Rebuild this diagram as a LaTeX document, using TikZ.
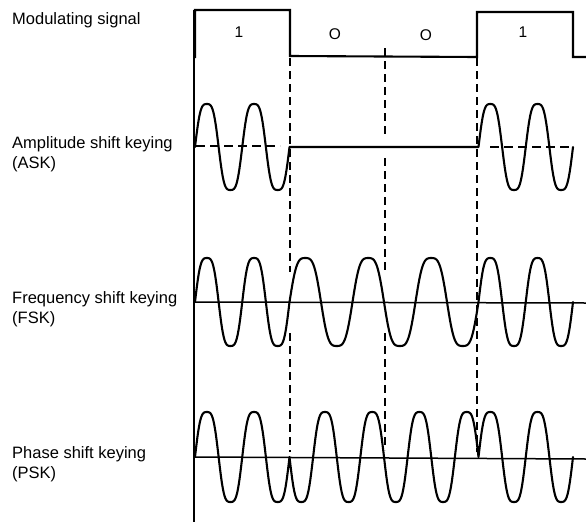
\documentclass[tikz,border=0pt]{standalone}
\usepackage{fontspec}
\setmainfont{Liberation Sans}
\begin{document}
\begin{tikzpicture}[x=1pt,y=-1pt,
  declare function={fw(\t)=(sin(\t)+0.1*sin(3*\t))/0.9;},
  lbl/.style={anchor=base west,inner sep=0pt,font=\fontsize{16.5}{20}\selectfont},
  bitlbl/.style={inner sep=0pt,font=\fontsize{15.5}{18}\selectfont},
  wave/.style={line width=2.1pt,line join=round,line cap=round},
  sig/.style={line width=2.1pt,line join=miter},
  axisline/.style={line width=1.3pt},
  baseline/.style={line width=1.5pt},
  bitdash/.style={line width=1.5pt,dash pattern=on 8pt off 5pt},
  centerdash/.style={line width=1.5pt,dash pattern=on 9pt off 5pt}]
\useasboundingbox (0,0) rectangle (586,525);
% labels
\node[lbl] (lmod) at (12,24) {Modulating signal};
\node[lbl] (lask1) at (12,148) {Amplitude shift keying};
\node[lbl] (lask2) at (12,168) {(ASK)};
\node[lbl] (lfsk1) at (12,303) {Frequency shift keying};
\node[lbl] (lfsk2) at (12,323) {(FSK)};
\node[lbl] (lpsk1) at (12,458) {Phase shift keying};
\node[lbl] (lpsk2) at (12,478) {(PSK)};
% bit labels
\node[bitlbl] (b1) at (239,32) {1};
\node[bitlbl] (b2) at (335,34) {O};
\node[bitlbl] (b3) at (426,35) {O};
\node[bitlbl] (b4) at (523,32) {1};
% axis
\draw[axisline] (194,10) -- (194,522);
% modulating signal
\draw[sig] (195,58) -- (195,10) -- (290,10) -- (290,56) -- (477,57) -- (477,12) -- (573,12) -- (573,57) -- (586,57);
% dashed bit boundaries
\draw[bitdash] (290,58) -- (290,272) (290,333) -- (290,452);
\draw[bitdash] (385,48) -- (385,137) (385,158) -- (385,272) (385,333) -- (385,450);
\draw[bitdash] (477,58) -- (477,452);
% ASK
\draw[wave] plot[domain=195:289.5,samples=120] (\x,{147-43*fw(7.619*(\x-195))}) -- (478.5,147)
  -- plot[domain=478.5:573,samples=120] (\x,{147-43*fw(7.619*(\x-478.5))});
\draw[centerdash] (196,146) -- (280,146) (490,147) -- (573,147);
% FSK
\draw[baseline] (195,302) -- (586,303);
\draw[wave] plot[domain=195:289.5,samples=120] (\x,{302-44*fw(7.619*(\x-195))})
  -- plot[domain=289.5:478.5,samples=200] (\x,{302-44*fw(5.7143*(\x-289.5))})
  -- plot[domain=478.5:573,samples=120] (\x,{302-44*fw(7.619*(\x-478.5))});
% PSK
\draw[baseline] (195,457) -- (586,459);
\draw[wave] plot[domain=195:289.5,samples=120] (\x,{457-45*fw(7.619*(\x-195))})
  -- plot[domain=289.5:478.5,samples=200] (\x,{457+45*fw(7.619*(\x-289.5))})
  -- plot[domain=478.5:573,samples=120] (\x,{457-45*fw(7.619*(\x-478.5))});
\end{tikzpicture}
\end{document}
